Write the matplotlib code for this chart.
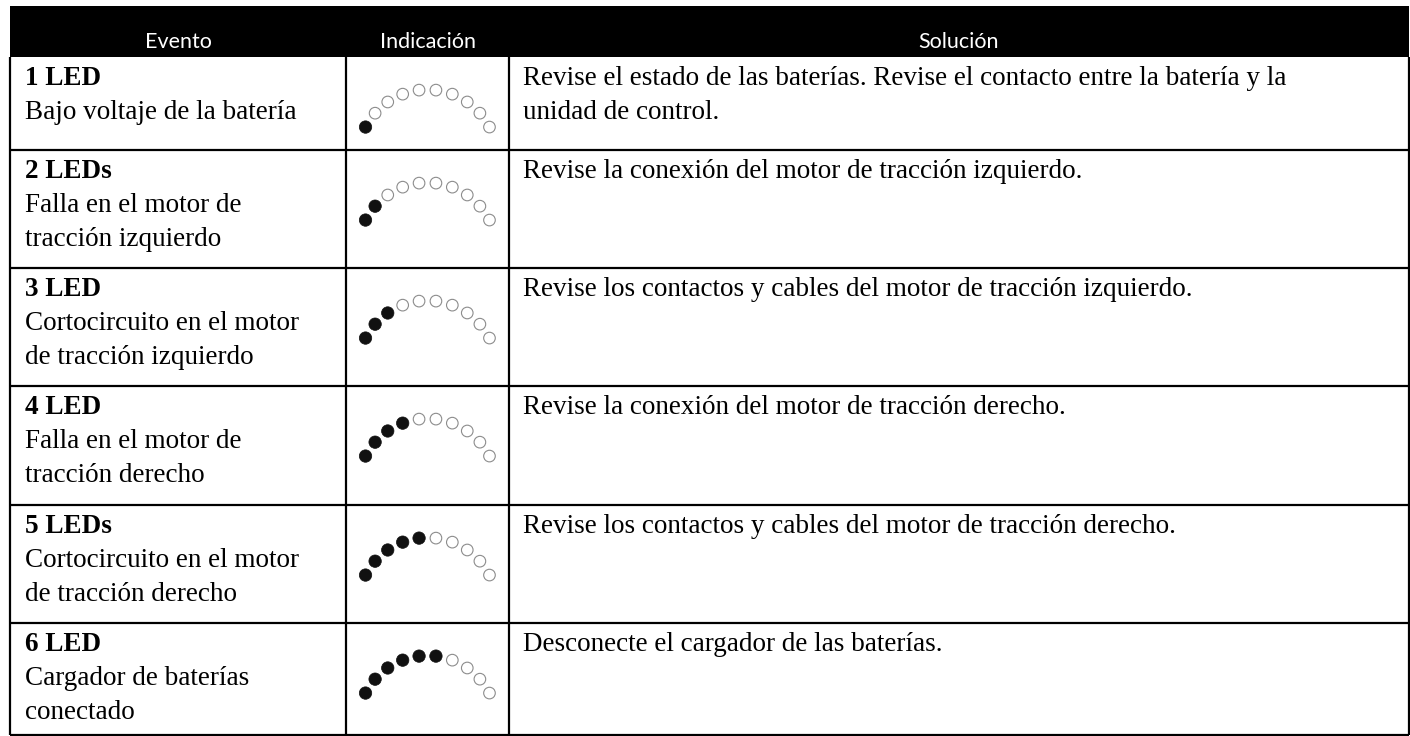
import numpy as np
import matplotlib
matplotlib.use("Agg")
import matplotlib.pyplot as plt
from matplotlib.patches import Rectangle, Circle

# table content
headers = ["Evento", "Indicación", "Solución"]
event_titles = ["1 LED", "2 LEDs", "3 LED", "4 LED", "5 LEDs", "6 LED"]
event_texts = [
    "Bajo voltaje de la batería",
    "Falla en el motor de\ntracción izquierdo",
    "Cortocircuito en el motor\nde tracción izquierdo",
    "Falla en el motor de\ntracción derecho",
    "Cortocircuito en el motor\nde tracción derecho",
    "Cargador de baterías\nconectado",
]
led_on = [1, 2, 3, 4, 5, 6]
led_total = 10
solutions = [
    "Revise el estado de las baterías. Revise el contacto entre la batería y la\nunidad de control.",
    "Revise la conexión del motor de tracción izquierdo.",
    "Revise los contactos y cables del motor de tracción izquierdo.",
    "Revise la conexión del motor de tracción derecho.",
    "Revise los contactos y cables del motor de tracción derecho.",
    "Desconecte el cargador de las baterías.",
]

# layout in pixels
W, H = 1410, 736
col_x = [10, 346, 509, 1409]
head_top, head_bot = 6, 57
row_y = [57, 150, 268, 386, 505, 623, 735]

SERIF = "Liberation Serif"
SANS = "Lato"
FS = 19.5
LINE = 34

fig = plt.figure(figsize=(W / 100, H / 100), dpi=100)
ax = fig.add_axes([0, 0, 1, 1])
ax.set_xlim(0, W)
ax.set_ylim(H, 0)
ax.axis("off")

# header band
ax.add_patch(Rectangle((col_x[0], head_top), col_x[-1] - col_x[0], head_bot - head_top,
                       color="black", lw=0))
for i, h in enumerate(headers):
    cx = (col_x[i] + col_x[i + 1]) / 2
    ax.text(cx, 48, h, color="white", family=SANS, fontsize=15.5,
            ha="center", va="baseline")

# grid
lw = 1.6
for x in col_x:
    ax.plot([x, x], [head_bot, row_y[-1]], color="black", lw=lw, solid_capstyle="butt")
for y in row_y[1:]:
    ax.plot([col_x[0], col_x[-1]], [y, y], color="black", lw=lw, solid_capstyle="butt")

# rows
ang = np.radians(np.linspace(152.3, 27.7, led_total))
R = 70
for r in range(len(event_titles)):
    top = row_y[r]
    base = top + 28
    ax.text(col_x[0] + 15, base, event_titles[r], family=SERIF, fontsize=FS,
            fontweight="bold", va="baseline", ha="left")
    for k, line in enumerate(event_texts[r].split("\n")):
        ax.text(col_x[0] + 15, base + LINE * (k + 1), line, family=SERIF,
                fontsize=FS, va="baseline", ha="left")
    for k, line in enumerate(solutions[r].split("\n")):
        ax.text(col_x[2] + 14, base + LINE * k, line, family=SERIF,
                fontsize=FS, va="baseline", ha="left")
    # LED arc
    cx = (col_x[1] + col_x[2]) / 2
    cy = top + 102.6
    for i, a in enumerate(ang):
        px = cx + R * np.cos(a)
        py = cy - R * np.sin(a)
        if i < led_on[r]:
            ax.add_patch(Circle((px, py), 6.2, facecolor="#111111", edgecolor="#111111", lw=0.5))
        else:
            ax.add_patch(Circle((px, py), 5.8, facecolor="white", edgecolor="#8c8c8c", lw=0.8))

fig.savefig("out.png", dpi=100)
